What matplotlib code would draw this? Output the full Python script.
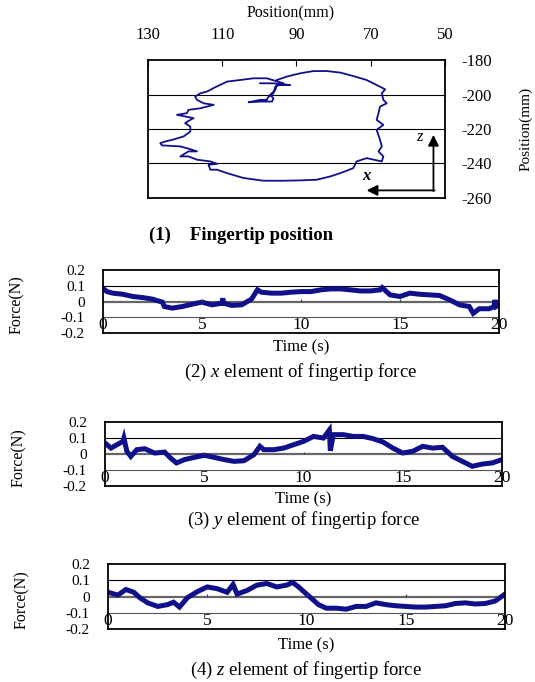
import matplotlib
matplotlib.use("Agg")
import matplotlib.pyplot as plt
import matplotlib.transforms as mtransforms

plt.rcParams['font.family'] = ['Liberation Serif', 'DejaVu Serif']
plt.rcParams['mathtext.fontset'] = 'custom'
plt.rcParams['mathtext.rm'] = 'Liberation Serif'
plt.rcParams['mathtext.it'] = 'Liberation Serif:italic'

# ---------------- data ----------------
# fingertip position trace (x in mm, z in mm)
pos_x = [95.3, 92.6, 89.0, 85.4, 81.8, 78.2, 74.7, 71.1, 68.4, 66.1, 67.0, 66.6, 65.7, 67.5,
         67.9, 68.4, 66.6, 68.4, 67.5, 67.0, 67.9, 66.6, 67.0, 71.1, 73.8, 74.7, 78.2, 80.9,
         84.5, 89.0, 93.5, 98.9, 104.3, 108.7, 111.4, 113.2, 113.7, 111.4, 113.2, 116.8,
         119.1, 121.3, 119.1, 116.8, 118.6, 121.3, 126.2, 126.7, 125.3, 123.5, 120.4, 118.6,
         118.6, 120.0, 118.6, 117.7, 122.2, 119.5, 119.1, 115.9, 114.1, 112.3, 115.0, 116.8,
         117.3, 115.9, 114.1, 111.9, 108.7, 105.2, 101.6, 98.0,
         93.5, 95.7, 96.2, 97.5, 98.0, 99.8, 102.9, 99.8, 96.6, 96.2, 97.1, 95.7, 95.3,
         91.7, 96.2, 99.8]
pos_z = [-191.6, -189.6, -187.7, -186.4, -186.4, -187.3, -189.3, -191.6, -194.5, -197.0,
         -199.3, -203.1, -205.1, -207.0, -210.8, -214.7, -217.6, -220.5, -226.3, -230.1,
         -233.0, -235.9, -238.8, -236.9, -238.8, -242.7, -245.6, -247.5, -249.4, -249.8,
         -250.0, -250.0, -248.4, -245.6, -243.6, -243.6, -240.7, -240.2, -238.8, -237.8,
         -235.9, -235.9, -233.0, -233.0, -231.7, -230.1, -229.5, -228.2, -227.2, -226.3,
         -224.3, -221.5, -218.6, -216.6, -214.7, -213.7, -211.8, -210.8, -208.9, -208.0,
         -207.0, -206.0, -205.1, -203.1, -201.2, -199.3, -198.3, -195.8, -192.5, -191.6,
         -190.6, -190.6,
         -193.5, -195.4, -199.3, -201.2, -203.1, -203.1, -204.5, -204.1, -204.1, -202.2,
         -200.2, -197.4, -194.5, -194.5, -193.5, -193.5]

# x element of fingertip force
tx = [0, 0.2, 0.5, 1, 1.5, 2, 2.5, 3, 3.1, 3.5, 4, 4.5, 5, 5.5, 6, 6.05, 6.1, 6.5, 7, 7.5,
      7.8, 8, 8.5, 9, 9.5, 10, 10.5, 11, 11.5, 12, 12.5, 13, 13.5, 14, 14.1, 14.5, 15, 15.5,
      16, 16.5, 17, 17.5, 18, 18.5, 18.7, 19, 19.5, 19.75, 19.8, 19.85, 20]
fx = [0.084, 0.063, 0.053, 0.046, 0.032, 0.025, 0.015, -0.004, -0.032, -0.042, -0.032,
      -0.017, -0.004, -0.021, -0.011, 0.02, -0.011, -0.025, -0.021, 0.015,
      0.074, 0.059, 0.053, 0.053, 0.059, 0.063, 0.063, 0.074, 0.080, 0.080, 0.074, 0.067,
      0.067, 0.074, 0.088, 0.042, 0.032, 0.053, 0.046, 0.042, 0.038, 0.011, -0.021, -0.032,
      -0.075, -0.046, -0.046, -0.032, 0.01, -0.032, -0.021]

# y element of fingertip force
ty = [0, 0.3, 0.6, 0.9, 0.95, 1.1, 1.3, 1.6, 2, 2.5, 3, 3.3, 3.6, 4, 4.5, 5, 5.5, 6, 6.5, 7,
      7.5, 7.8, 8, 8.5, 9, 9.5, 10, 10.5, 11, 11.3, 11.35, 11.5, 12, 12.5, 13, 13.5, 14,
      14.5, 15, 15.5, 16, 16.5, 17, 17.5, 18, 18.5, 19, 19.5, 20]
fy = [0.069, 0.037, 0.058, 0.079, 0.10, 0.017, -0.015, 0.027, 0.033, 0.006, 0.012, -0.025,
      -0.056, -0.035, -0.021, -0.008, -0.021, -0.035, -0.046, -0.042, -0.004, 0.048, 0.027,
      0.027, 0.037, 0.058, 0.079, 0.110, 0.100, 0.150, 0.020, 0.121, 0.121, 0.110, 0.110,
      0.096, 0.075, 0.037, 0.006, 0.017, 0.048, 0.037, 0.042, -0.015, -0.046, -0.077,
      -0.063, -0.056, -0.035]

# z element of fingertip force
tz = [0, 0.5, 0.9, 1.3, 1.6, 2, 2.5, 3, 3.3, 3.6, 4, 4.5, 5, 5.5, 6, 6.3, 6.5, 7, 7.5, 8,
      8.5, 9, 9.3, 9.6, 10, 10.3, 10.6, 11, 11.5, 12, 12.5, 13, 13.5, 14, 14.5, 15, 15.5,
      16, 16.5, 17, 17.5, 18, 18.5, 19, 19.5, 20]
fz = [0.026, 0.009, 0.043, 0.026, -0.007, -0.039, -0.061, -0.050, -0.035, -0.065, -0.007,
      0.030, 0.059, 0.048, 0.026, 0.074, 0.015, 0.037, 0.070, 0.080, 0.059, 0.070, 0.087,
      0.059, 0.015, -0.017, -0.050, -0.072, -0.072, -0.078, -0.061, -0.061, -0.039, -0.050,
      -0.057, -0.061, -0.065, -0.065, -0.061, -0.057, -0.043, -0.039, -0.046, -0.043,
      -0.028, 0.015]

time_ticks = [0, 5, 10, 15, 20]
force_ticks = [0.2, 0.1, 0, -0.1, -0.2]
force_ticklabels = ['0.2', '0.1', '0', '-0.1', '-0.2']
pos_xticks = [130, 110, 90, 70, 50]
pos_zticks = [-180, -200, -220, -240, -260]

line_color = '#10108a'

# ---------------- figure ----------------
fig = plt.figure(figsize=(5.35, 6.82), dpi=100)

# ---- (1) fingertip position ----
ax0 = fig.add_axes([0.2766, 0.7097, 0.5551, 0.2023])
ax0.plot(pos_x, pos_z, color=line_color, lw=1.3)
ax0.set_xlim(130, 50)
ax0.set_ylim(-260, -180)
for g in [-200, -220, -240]:
    ax0.axhline(g, color='black', lw=0.8, zorder=0)
ax0.xaxis.tick_top()
ax0.xaxis.set_label_position('top')
ax0.set_xticks(pos_xticks)
ax0.set_xticklabels([str(v) for v in pos_xticks], fontsize=12)
ax0.tick_params(axis='x', direction='in', length=4, pad=12, top=True, bottom=False)
ax0.yaxis.tick_right()
ax0.yaxis.set_label_position('right')
ax0.set_yticks(pos_zticks)
ax0.set_yticklabels([str(v) for v in pos_zticks], fontsize=12)
ax0.tick_params(axis='y', length=0, pad=12, right=True, left=False)
ax0.set_xlabel('Position(mm)', fontsize=11.5)
ax0.xaxis.set_label_coords(0.48, 1.31)
ax0.set_ylabel('Position(mm)', fontsize=11)
ax0.yaxis.set_label_coords(1.25, 0.5)
for s in ax0.spines.values():
    s.set_linewidth(1.3)
# axis arrows
ax0.annotate('', xy=(53.1, -223.4), xytext=(53.1, -256.0),
             arrowprops=dict(arrowstyle='-|>', color='black', lw=1.3, mutation_scale=16,
                             shrinkA=0, shrinkB=0))
ax0.annotate('', xy=(71.1, -255.6), xytext=(52.8, -255.6),
             arrowprops=dict(arrowstyle='-|>', color='black', lw=1.3, mutation_scale=16,
                             shrinkA=0, shrinkB=0))
ax0.text(56.9, -224.5, 'z', fontsize=12, style='italic', ha='center', va='center')
ax0.text(71.1, -247.5, 'x', fontsize=12, style='italic', weight='bold', ha='center', va='center')
fig.text(0.45, 1 - 235 / 682, '(1)    Fingertip position', fontsize=13.5, weight='bold',
         ha='center', va='center')


def force_axes(rect, t, f, caption, cap_y, time_y):
    ax = fig.add_axes(rect)
    ax.plot(t, f, color=line_color, lw=3.6, solid_joinstyle='miter')
    ax.set_xlim(0, 20)
    ax.set_ylim(-0.2, 0.2)
    ax.axhline(0.1, color='black', lw=0.8, zorder=0)
    ax.axhline(-0.1, color='#555555', lw=0.8, zorder=0)
    ax.axhline(0, color='#666666', lw=1.6, zorder=0)
    ax.vlines(time_ticks[1:-1], 0, 0.014, color='#444444', lw=0.8)
    ax.set_xticks([])
    ax.set_yticks(force_ticks)
    ax.set_yticklabels(force_ticklabels, fontsize=11)
    ax.tick_params(axis='y', length=0, pad=13)
    tr = mtransforms.blended_transform_factory(ax.transData, ax.transAxes)
    for v in time_ticks:
        ax.text(v, 0.12, str(v), transform=tr, fontsize=12.5, ha='center', va='center')
    for s in ax.spines.values():
        s.set_linewidth(1.3)
    ax.set_ylabel('Force(N)', fontsize=11.5)
    ax.yaxis.set_label_coords(-0.197, 0.45)
    x_center = rect[0] + rect[2] / 2
    fig.text(x_center, 1 - time_y / 682, 'Time (s)', fontsize=12, ha='center', va='center')
    fig.text(x_center, 1 - cap_y / 682, caption, fontsize=13.5, ha='center', va='center')
    return ax


force_axes([0.1925, 0.5117, 0.7402, 0.0924], tx, fx,
           '(2) $\\mathit{x}$ element of fingertip force', 372, 347)
force_axes([0.1963, 0.2874, 0.7421, 0.0938], ty, fy,
           '(3) $\\mathit{y}$ element of fingertip force', 520, 499)
force_axes([0.2019, 0.0777, 0.7421, 0.0953], tz, fz,
           '(4) $\\mathit{z}$ element of fingertip force', 670, 645)

fig.savefig('out.png', dpi=100)
